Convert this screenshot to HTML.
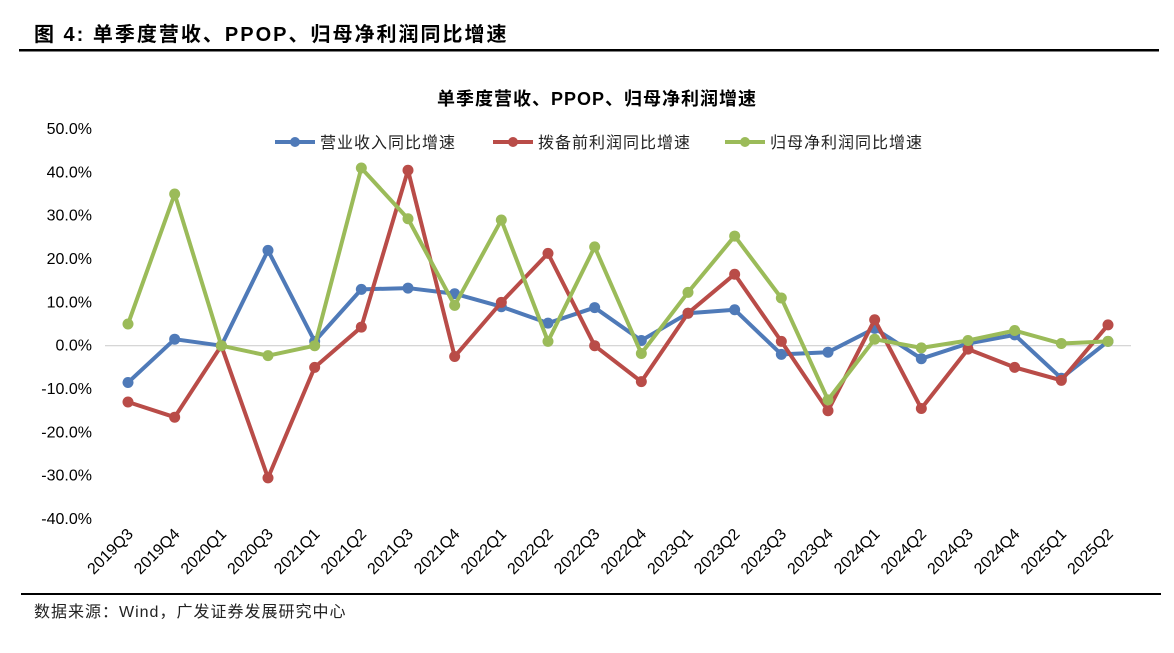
<!DOCTYPE html>
<html><head><meta charset="utf-8"><style>
body{margin:0;background:#fff;}
svg text{font-family:"Liberation Sans","Noto Sans CJK SC",sans-serif;}
</style></head><body>
<svg id="c" width="1174" height="648" xmlns="http://www.w3.org/2000/svg">
<text x="34" y="41" font-size="20" font-weight="bold" letter-spacing="2">图  4:  单季度营收、PPOP、归母净利润同比增速</text>
<rect x="19" y="49" width="1140" height="2.5" fill="#000"/>
<text x="597" y="105" font-size="18" font-weight="bold" text-anchor="middle" letter-spacing="1">单季度营收、PPOP、归母净利润增速</text>
<g id="legend"></g>
<g id="yax"></g>
<g id="xax"></g>
<g id="series"></g>
<rect x="21" y="593" width="1140" height="2" fill="#000"/>
<text x="34" y="617" font-size="16" fill="#222" letter-spacing="1">数据来源：Wind，广发证券发展研究中心</text>
</svg>
<script>
const categories=["2019Q3","2019Q4","2020Q1","2020Q3","2021Q1","2021Q2","2021Q3","2021Q4","2022Q1","2022Q2","2022Q3","2022Q4","2023Q1","2023Q2","2023Q3","2023Q4","2024Q1","2024Q2","2024Q3","2024Q4","2025Q1","2025Q2"];
const revenue=[-8.5,1.5,0,22,1,13,13.3,12,9,5.2,8.8,1.2,7.5,8.3,-2,-1.5,4,-3,0.5,2.5,-7.5,1];
const ppop=[-13,-16.5,0,-30.5,-5,4.3,40.5,-2.5,10,21.3,0,-8.3,7.5,16.5,1,-15,6,-14.5,-0.8,-5,-8,4.8];
const netProfit=[5,35,0,-2.3,0,41,29.3,9.3,29,1,22.8,-1.8,12.3,25.3,11,-12.5,1.5,-0.5,1.2,3.5,0.5,1];
const yTicks=[50,40,30,20,10,0,-10,-20,-30,-40];
const seriesNames=["营业收入同比增速","拨备前利润同比增速","归母净利润同比增速"];
const NS="http://www.w3.org/2000/svg";
function mk(t,a,p){const e=document.createElementNS(NS,t);for(const k in a)e.setAttribute(k,a[k]);p.appendChild(e);return e;}
const y=v=>345.7-v*4.333;
const x=i=>128+i*(980/(categories.length-1));
const yax=document.getElementById('yax');
yTicks.forEach(v=>{const t=mk('text',{x:92,y:y(v)+5,'font-size':16,'text-anchor':'end'},yax);t.textContent=v.toFixed(1)+'%';

});
const zl=mk('line',{x1:105,x2:1131,y1:y(0),y2:y(0),stroke:'#d0d0d0','stroke-width':1.2},yax);


const xax=document.getElementById('xax');
categories.forEach((c,i)=>{const t=mk('text',{x:x(i)+6,y:535,'font-size':16,'text-anchor':'end',transform:`rotate(-45 ${x(i)+6} 535)`},xax);t.textContent=c;

});
const colors=["#4f7ab8","#b94c48","#9bbb59"];
const data=[revenue,ppop,netProfit];
const sg=document.getElementById('series');
[0,1,2].forEach(s=>{const g=mk('g',{},sg);


const pts=data[s].map((v,i)=>x(i)+','+y(v)).join(' ');
const pl=mk('polyline',{points:pts,fill:'none',stroke:colors[s],'stroke-width':4,'stroke-linejoin':'round'},g);


data[s].forEach((v,i)=>{const c=mk('circle',{cx:x(i),cy:y(v),r:5.5,fill:colors[s]},g);

});});
const lg=document.getElementById('legend');
const lx=[275,493,725];
seriesNames.forEach((n,s)=>{const g=mk('g',{},lg);


mk('line',{x1:lx[s],x2:lx[s]+40,y1:142,y2:142,stroke:colors[s],'stroke-width':4},g);
mk('circle',{cx:lx[s]+20,cy:142,r:5,fill:colors[s]},g);
const t=mk('text',{x:lx[s]+45,y:148,'font-size':16,fill:'#222','letter-spacing':1},g);t.textContent=n;});
</script>
</body></html>
